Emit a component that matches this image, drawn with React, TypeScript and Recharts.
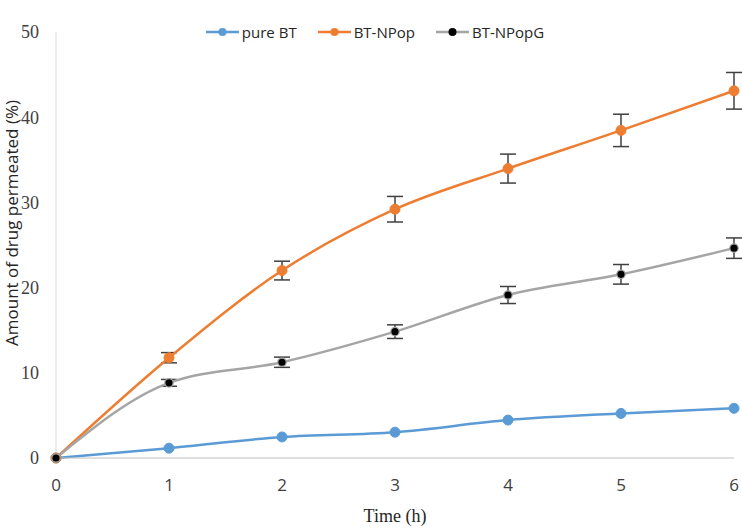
import React from 'react';
import { LineChart, Line, XAxis, YAxis, ErrorBar, Legend, Label } from 'recharts';

document.body.style.margin = '0';

const times = [0, 1, 2, 3, 4, 5, 6];
const pureBT = [0, 1.15, 2.47, 3.03, 4.45, 5.23, 5.83];
const btNPop = [0, 11.77, 22.0, 29.2, 33.97, 38.45, 43.1];
const btNPopErr = [0, 0.6, 1.1, 1.5, 1.7, 1.9, 2.15];
const btNPopG = [0, 8.82, 11.24, 14.83, 19.13, 21.56, 24.63];
const btNPopGErr = [0, 0.4, 0.6, 0.8, 1.0, 1.15, 1.2];
const yTicks = [0, 10, 20, 30, 40, 50];

const data = times.map((t, i) => ({
  time: t,
  pure: pureBT[i],
  np: btNPop[i],
  npErr: btNPopErr[i],
  npg: btNPopG[i],
  npgErr: btNPopGErr[i],
}));

const legendItems = [
  { name: 'pure BT', color: '#5B9BD5', dot: '#5B9BD5' },
  { name: 'BT-NPop', color: '#ED7D31', dot: '#ED7D31' },
  { name: 'BT-NPopG', color: '#A5A5A5', dot: '#000000' },
];

const CustomLegend = () => (
  <div style={{ display: 'flex', justifyContent: 'center', gap: 21, paddingLeft: 8, fontFamily: '"Open Sans", sans-serif', fontSize: 15, color: '#262626' }}>
    {legendItems.map((it) => (
      <div key={it.name} style={{ display: 'flex', alignItems: 'center', gap: 3 }}>
        <svg width={33} height={12}>
          <line x1={0} y1={6} x2={33} y2={6} stroke={it.color} strokeWidth={2.5} />
          <circle cx={16.5} cy={6} r={4} fill={it.dot} />
        </svg>
        <span>{it.name}</span>
      </div>
    ))}
  </div>
);

const GrayDot = (props: any) => {
  const { cx, cy } = props;
  if (cx == null || cy == null) return null;
  return <circle cx={cx} cy={cy} r={4.2} fill="#000" stroke="#A5A5A5" strokeWidth={1.2} />;
};

export default function App() {
  return (
    <LineChart width={742} height={529} data={data} margin={{ top: 12, right: 8, bottom: 0, left: 0 }}>
      <Legend verticalAlign="top" content={<CustomLegend />} wrapperStyle={{ top: 22, left: 0, width: 742 }} />
      <XAxis
        dataKey="time"
        type="number"
        domain={[0, 6]}
        ticks={times}
        height={71}
        stroke="#BFBFBF"
        tickLine={false}
        tick={{ fill: '#404040', fontSize: 17, fontFamily: '"Open Sans", sans-serif' }}
        tickMargin={15}
      >
        <Label value="Time (h)" position="insideBottom" offset={7} style={{ fill: '#262626', fontSize: 18, fontFamily: '"Liberation Serif", serif' }} />
      </XAxis>
      <YAxis
        type="number"
        domain={[0, 50]}
        ticks={yTicks}
        width={56}
        stroke="#D9D9D9"
        tickLine={false}
        tick={{ fill: '#404040', fontSize: 18, fontFamily: '"Liberation Serif", serif' }}
        tickMargin={11}
      >
        <Label
          content={() => (
            <text x={18} y={223} transform="rotate(-90 18 223)" textAnchor="middle" fill="#262626" fontSize={17} fontFamily='"Open Sans", sans-serif'>
              Amount of drug permeated (%)
            </text>
          )}
        />
      </YAxis>
      <Line type="monotone" dataKey="pure" stroke="#5B9BD5" strokeWidth={2.5} dot={{ r: 5, fill: '#5B9BD5', stroke: '#5B9BD5', strokeWidth: 1 }} isAnimationActive={false} />
      <Line type="monotone" dataKey="np" stroke="#ED7D31" strokeWidth={2.5} dot={{ r: 5, fill: '#ED7D31', stroke: '#ED7D31', strokeWidth: 1 }} isAnimationActive={false}>
        <ErrorBar dataKey="npErr" width={8} stroke="#404040" strokeWidth={1.5} direction="y" isAnimationActive={false} />
      </Line>
      <Line type="monotone" dataKey="npg" stroke="#A5A5A5" strokeWidth={2.5} dot={<GrayDot />} isAnimationActive={false}>
        <ErrorBar dataKey="npgErr" width={8} stroke="#404040" strokeWidth={1.5} direction="y" isAnimationActive={false} />
      </Line>
    </LineChart>
  );
}
